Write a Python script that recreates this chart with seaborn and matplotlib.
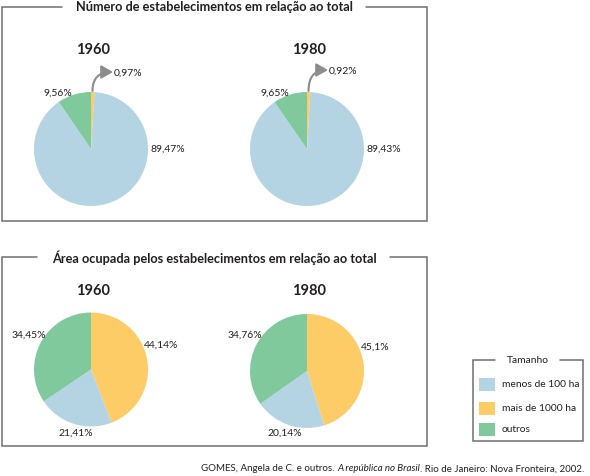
import numpy as np
import pandas as pd
import seaborn as sns
import matplotlib.pyplot as plt
from matplotlib.patches import FancyArrowPatch, Rectangle

# dados
categorias = ["menos de 100 ha", "mais de 1000 ha", "outros"]
cores = ["#b5d4e3", "#fecc66", "#80c99c"]
anos = ["1960", "1980"]
# ordem dos setores no gráfico: mais de 1000, menos de 100, outros
numero_1960 = [0.97, 89.47, 9.56]
numero_1980 = [0.92, 89.43, 9.65]
area_1960 = [44.14, 21.41, 34.45]
area_1980 = [45.1, 20.14, 34.76]
titulo_num = "Número de estabelecimentos em relação ao total"
titulo_area = "Área ocupada pelos estabelecimentos em relação ao total"

sns.set_theme(style="white")
plt.rcParams['font.family'] = ['Lato', 'DejaVu Sans']

W, H = 590, 477
fig = plt.figure(figsize=(5.9, 4.77), dpi=100)
ax = fig.add_axes([0, 0, 1, 1])
Y = lambda y: H - y
cor_pie = [cores[1], cores[0], cores[2]]
linha = "#6f6f6f"
txt = "#231f20"


def fmt(v):
    return (("%.2f" % v).rstrip("0") + "%").replace(".", ",")


def pizza(vals, cx, cy, r):
    ax.pie(vals, colors=cor_pie, startangle=90, counterclock=False,
           center=(cx, Y(cy)), radius=r, wedgeprops=dict(linewidth=0))


def caixa(x0, x1, y0, y1, g0, g1):
    ax.plot([g1, x1, x1, x0, x0, g0], [Y(y0), Y(y0), Y(y1), Y(y1), Y(y0), Y(y0)],
            color=linha, lw=1.1, solid_joinstyle="miter")


# caixa de cima
caixa(1.5, 427, 8, 222, 62, 366)
ax.text(214, Y(7), titulo_num, ha="center", va="center", fontsize=9.2,
        fontweight="bold", color=txt)
# caixa de baixo
caixa(1.5, 427, 258, 447, 37, 390)
ax.text(214, Y(258), titulo_area, ha="center", va="center", fontsize=9.2,
        fontweight="bold", color=txt)

# pizzas do número
for ano, vals, cx, pos in [
    (anos[0], numero_1960, 91, [(114, 73, "left"), (150, 149, "left"), (72, 93, "right")]),
    (anos[1], numero_1980, 307, [(329, 71, "left"), (366, 149, "left"), (289, 93, "right")]),
]:
    pizza(vals, cx, 150, 57)
    ax.text(cx + 2, Y(50), ano, ha="center", va="center", fontsize=10.5,
            fontweight="bold", color=txt)
    for v, (x, y, ha) in zip(vals, pos):
        ax.text(x, Y(y), fmt(v), ha=ha, va="center", fontsize=7.5, color=txt)
    seta = FancyArrowPatch((cx + 1.5, Y(92)), (pos[0][0] - 1, Y(pos[0][1])),
                           connectionstyle="angle3,angleA=90,angleB=0",
                           arrowstyle="-|>,head_length=7,head_width=4",
                           color="#8c8c8c", lw=1.5, mutation_scale=1,
                           shrinkA=0, shrinkB=0)
    ax.add_patch(seta)

# pizzas da área
for ano, vals, cx, cy, pos in [
    (anos[0], area_1960, 91, 370.5, [(144, 345), (58, 433), (12, 335)]),
    (anos[1], area_1980, 307, 372, [(361, 347), (267, 433), (228, 335)]),
]:
    pizza(vals, cx, cy, 57)
    ax.text(cx + 2, Y(291), ano, ha="center", va="center", fontsize=10.5,
            fontweight="bold", color=txt)
    for v, (x, y) in zip(vals, pos):
        ax.text(x, Y(y), fmt(v), ha="left", va="center", fontsize=7.5, color=txt)

# legenda
caixa(473, 583, 361, 442, 495, 560)
ax.text(528, Y(361), "Tamanho", ha="center", va="center", fontsize=7.4, color=txt)
for cat, cor, yc in zip(categorias, cores, [385, 409, 430]):
    ax.add_patch(Rectangle((479, Y(yc + 6.5)), 16, 13, color=cor, lw=0))
    ax.text(502, Y(yc), cat, ha="left", va="center", fontsize=7.4, color=txt)

# fonte
t1 = ax.text(201, Y(469), "GOMES, Angela de C. e outros. ", ha="left", va="center",
             fontsize=7, color=txt)
t2 = ax.annotate("A república no Brasil", xy=(1, 0), xycoords=t1, ha="left", va="bottom",
                 fontsize=7, color=txt, style="italic")
ax.annotate(". Rio de Janeiro: Nova Fronteira, 2002.", xy=(1, 0), xycoords=t2,
            ha="left", va="bottom", fontsize=7, color=txt)

ax.set_xlim(0, W)
ax.set_ylim(0, H)
ax.set_aspect("equal")
ax.axis("off")
fig.savefig("out.png", dpi=100)
